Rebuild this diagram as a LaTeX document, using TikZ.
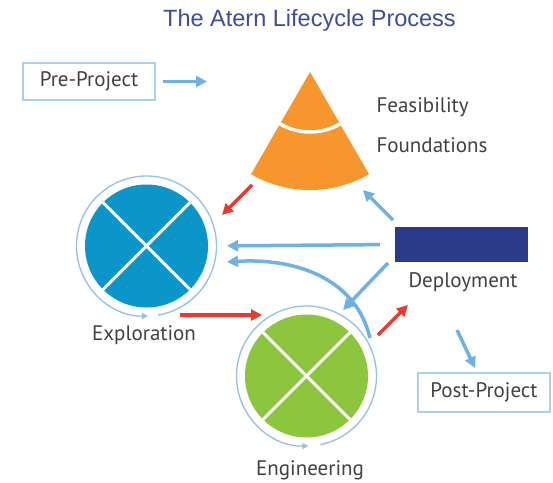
\documentclass[tikz,border=0pt]{standalone}
\usepackage{fontspec}
\setmainfont{PT Sans}
\newfontfamily\titlefont{Liberation Sans}
\usetikzlibrary{arrows.meta}

\definecolor{atblau}{RGB}{10,150,200}
\definecolor{atgruen}{RGB}{140,198,63}
\definecolor{atorange}{RGB}{247,150,45}
\definecolor{atnavy}{RGB}{44,58,138}
\definecolor{atpfeil}{RGB}{110,178,228}
\definecolor{atrot}{RGB}{232,57,47}
\definecolor{atring}{RGB}{145,192,234}
\definecolor{atrahmen}{RGB}{170,208,236}
\definecolor{attext}{RGB}{65,65,65}
\definecolor{attitel}{RGB}{62,76,158}

\begin{document}
\begin{tikzpicture}[x=1pt, y=-1pt,
	blaupfeil/.style={line width=3.5pt, draw=atpfeil, -{Triangle[length=11pt,width=11pt]}},
	rotpfeil/.style={line width=3.5pt, draw=atrot, -{Triangle[length=11pt,width=11pt]}},
	ring/.style={line width=1.3pt, draw=atring, -{Triangle[length=6pt,width=6pt]}},
	phase/.style={circle, minimum size=123pt, inner sep=0pt, outer sep=0pt},
	kasten/.style={draw=atrahmen, line width=1.2pt, minimum width=132pt, inner sep=0pt, text=attext, font=\fontsize{21}{24}\selectfont},
	beschr/.style={text=attext, font=\fontsize{21}{24}\selectfont}]
	\fill[white] (0,0) rectangle (553,482);
	\useasboundingbox (0,0) rectangle (553,482);
	% Titel
	\node[text=attitel, font=\titlefont\fontsize{23.5}{26}\selectfont] (titel) at (309.5,20) {The Atern Lifecycle Process};
	% Kegel Feasibility / Foundations
	\coordinate (spitze) at (310,72);
	\fill[atorange] (spitze) -- ++(240:118pt) arc[start angle=240, end angle=300, radius=118pt] -- cycle;
	\draw[white, line width=3.5pt] ([shift={(240:60pt)}]spitze) arc[start angle=240, end angle=300, radius=60pt];
	\node[beschr, anchor=west] (feas) at (373,107) {Feasibility};
	\node[beschr, anchor=west] (found) at (373,145) {Foundations};
	% Kaesten
	\node[kasten, minimum height=37pt] (pre) at (89,81.5) {Pre-Project};
	\node[kasten, minimum height=39pt] (post) at (484,392.5) {Post-Project};
	% Phasen
	\node[phase, fill=atblau] (expl) at (146.5,246) {};
	\draw[white, line width=3pt] (expl.45) -- (expl.225) (expl.135) -- (expl.315);
	\draw[ring] ([shift={(-80.5:70pt)}]expl.center) arc[start angle=-80.5, end angle=271.2, radius=70pt];
	\node[beschr] (expllabel) at (144,335) {Exploration};
	\node[phase, fill=atgruen] (eng) at (306.5,376) {};
	\draw[white, line width=3pt] (eng.45) -- (eng.225) (eng.135) -- (eng.315);
	\draw[ring] ([shift={(-78.5:70pt)}]eng.center) arc[start angle=-78.5, end angle=271.5, radius=70pt];
	\node[beschr] (englabel) at (310,470) {Engineering};
	\node[fill=atnavy, minimum width=133pt, minimum height=35pt, inner sep=0pt] (depl) at (461.5,244.5) {};
	\node[beschr] (depllabel) at (463,282) {Deployment};
	% Pfeilenden
	\coordinate (preend) at (207,81.5);
	\coordinate (kegelA) at (252,185);
	\coordinate (explA) at (222,215);
	\coordinate (explB) at (180,315);
	\coordinate (engA) at (262,315);
	\coordinate (engB) at (378,335);
	\coordinate (deplA) at (408,305);
	\coordinate (deplB) at (393,220);
	\coordinate (kegelB) at (363,190);
	\coordinate (deplC) at (388,263);
	\coordinate (engC) at (343,310);
	\coordinate (engD) at (370,338);
	\coordinate (explC) at (227,262);
	\coordinate (deplD) at (457,330);
	\coordinate (postA) at (475,368);
	% Pfeile
	\draw[blaupfeil, shorten <=7pt] (pre.east) -- (preend);
	\draw[rotpfeil] (kegelA) -- (explA);
	\draw[rotpfeil] (explB) -- (engA);
	\draw[rotpfeil] (engB) -- (deplA);
	\draw[blaupfeil] (deplB) -- (kegelB);
	\draw[blaupfeil, shorten <=15pt, shorten >=19pt] (depl.west) -- (expl.east);
	\draw[blaupfeil] (engD) .. controls (355,275) and (290,258) .. (explC);
	\draw[blaupfeil] (deplC) -- (engC);
	\draw[blaupfeil] (deplD) -- (postA);
\end{tikzpicture}
\end{document}
